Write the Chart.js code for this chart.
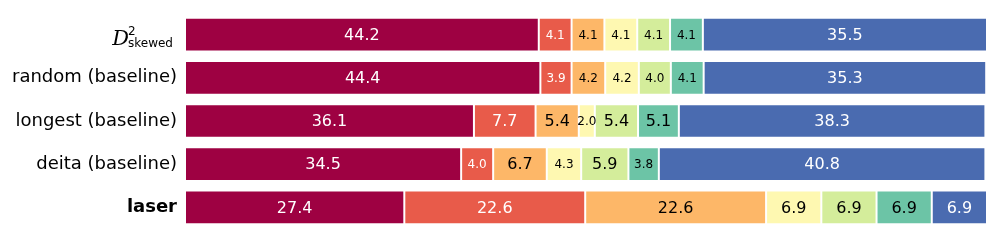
<!DOCTYPE html>
<html>
<head>
<meta charset="utf-8">
<script src="https://cdn.jsdelivr.net/npm/chart.js@4.4.1/dist/chart.umd.min.js"></script>
<style>
  html, body { margin: 0; padding: 0; background: #fff; }
  #wrap { width: 996px; height: 243px; position: relative; }
</style>
</head>
<body>
<div id="wrap"><canvas id="mix"></canvas></div>
<script>
// ========== 数据 ==========
const rows = ["D2skewed", "random (baseline)", "longest (baseline)", "deita (baseline)", "laser"];

const seg1 = [44.2, 44.4, 36.1, 34.5, 27.4];
const seg2 = [4.1, 3.9, 7.7, 4.0, 22.6];
const seg3 = [4.1, 4.2, 5.4, 6.7, 22.6];
const seg4 = [4.1, 4.2, 2.0, 4.3, 6.9];
const seg5 = [4.1, 4.0, 5.4, 5.9, 6.9];
const seg6 = [4.1, 4.1, 5.1, 3.8, 6.9];
const seg7 = [35.5, 35.3, 38.3, 40.8, 6.9];

const colors = ["#9e0142", "#e85b4a", "#fdb768", "#fef8b1", "#d4ed9b", "#6cc4a6", "#4a6bb0"];
const textColors = ["#fff", "#fff", "#000", "#000", "#000", "#000", "#fff"];

const allSegs = [seg1, seg2, seg3, seg4, seg5, seg6, seg7];

// ========== 数值标签 ==========
const valueLabels = {
  id: "valueLabels",
  afterDatasetsDraw(chart) {
    const ctx = chart.ctx;
    ctx.save();
    ctx.textAlign = "center";
    ctx.textBaseline = "middle";
    chart.data.datasets.forEach((ds, di) => {
      const meta = chart.getDatasetMeta(di);
      meta.data.forEach((bar, i) => {
        const v = ds.data[i];
        const size = v < 5 ? 12 : 16;
        ctx.font = size + "px 'DejaVu Sans'";
        ctx.fillStyle = textColors[di];
        ctx.fillText(v.toFixed(1), (bar.x + bar.base) / 2, bar.y + 1);
      });
    });
    ctx.restore();
  }
};

// 第一行的数学标签 D^2_skewed
const mathLabel = {
  id: "mathLabel",
  afterDraw(chart) {
    const ctx = chart.ctx;
    const y = chart.scales.y.getPixelForValue(0);
    ctx.save();
    ctx.fillStyle = "#000";
    ctx.textBaseline = "alphabetic";
    ctx.textAlign = "left";
    ctx.font = "12px 'DejaVu Sans'";
    ctx.fillText("skewed", 128, y + 12);
    ctx.fillText("2", 128, y);
    ctx.font = "italic 21px 'DejaVu Serif'";
    ctx.textAlign = "right";
    ctx.fillText("D", 129, y + 10);
    ctx.restore();
  }
};

new Chart(document.getElementById("mix"), {
  type: "bar",
  data: {
    labels: rows,
    datasets: allSegs.map((d, i) => ({
      data: d,
      backgroundColor: colors[i],
      borderColor: "rgba(255,255,255,0.75)",
      borderWidth: 1,
      borderSkipped: false,
      categoryPercentage: 1,
      barPercentage: 0.78
    }))
  },
  options: {
    indexAxis: "y",
    responsive: true,
    maintainAspectRatio: false,
    animation: false,
    layout: { padding: { top: 13, bottom: 14, right: 9, left: 0 } },
    plugins: { legend: { display: false }, tooltip: { enabled: false } },
    scales: {
      x: { stacked: true, display: false, min: 0, max: 100.2 },
      y: {
        stacked: true,
        grid: { display: false, drawTicks: false },
        border: { display: false },
        afterFit: s => { s.width = 185; s.paddingTop = 0; s.paddingBottom = 0; },
        ticks: {
          padding: 8,
          color: "#000",
          callback: (v, i) => i === 0 ? "" : rows[i],
          font: c => ({ family: "'DejaVu Sans'", size: 18, weight: c.index === 4 ? "bold" : "normal" })
        }
      }
    }
  },
  plugins: [valueLabels, mathLabel]
});
</script>
</body>
</html>
